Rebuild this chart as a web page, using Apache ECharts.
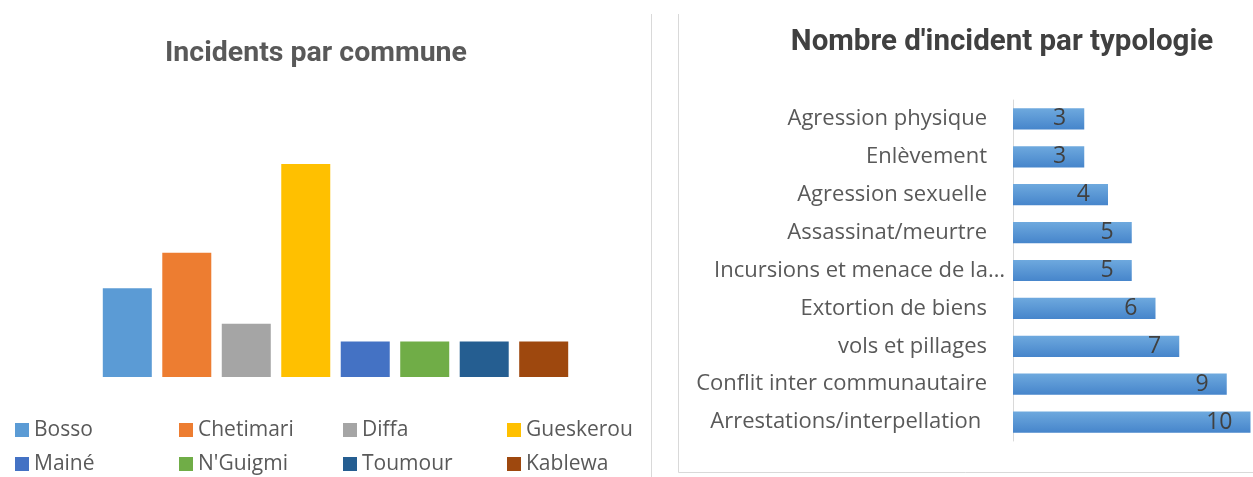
<!DOCTYPE html>
<html>
<head>
<meta charset="utf-8">
<script src="https://cdn.jsdelivr.net/npm/echarts@6/dist/echarts.min.js"></script>
<style>
  html, body { margin: 0; padding: 0; background: #fff; }
  #chart { width: 1253px; height: 477px; }
</style>
</head>
<body>
<div id="chart"></div>
<script>
const communes = ['Bosso', 'Chetimari', 'Diffa', 'Gueskerou', 'Mainé', "N'Guigmi", 'Toumour', 'Kablewa']
const communeValues = [5, 7, 3, 12, 2, 2, 2, 2]
const communeColors = ['#5b9bd5', '#ed7d31', '#a5a5a5', '#ffc000', '#4472c4', '#70ad47', '#255e91', '#9e480e']
// legend columns, two rows each
const legendColumns = [[0, 4], [1, 5], [2, 6], [3, 7]]

const typologies = [
  'Agression physique',
  'Enlèvement',
  'Agression sexuelle',
  'Assassinat/meurtre',
  'Incursions et menace de la…',
  'Extortion de biens',
  'vols et pillages',
  'Conflit inter communautaire',
  'Arrestations/interpellation ',
]
const typologyValues = [3, 3, 4, 5, 5, 6, 7, 9, 10]

const labelFont = 'Open Sans'
const titleFont = 'Roboto'
const border = '#d9d9d9'

const chart = echarts.init(document.getElementById('chart'))

const communeSeries = communes.map((name, i) => ({
  name,
  type: 'bar',
  xAxisIndex: 0,
  yAxisIndex: 0,
  data: [communeValues[i]],
  barWidth: 49,
  barGap: '21.4%',
  itemStyle: { color: communeColors[i] },
  silent: true,
}))

chart.setOption({
  animation: false,
  title: [
    {
      text: 'Incidents par commune',
      left: 316,
      top: 39,
      textAlign: 'center',
      padding: 0,
      textStyle: { fontFamily: titleFont, fontWeight: 'bold', fontSize: 28.5, color: '#595959' },
    },
    {
      text: "Nombre d'incident par typologie",
      left: 1002,
      top: 28,
      textAlign: 'center',
      padding: 0,
      textStyle: { fontFamily: titleFont, fontWeight: 'bold', fontSize: 29.5, color: '#404040' },
    },
  ],
  legend: legendColumns.map((col, k) => ({
    left: 15 + 164 * k,
    top: 418,
    orient: 'vertical',
    padding: 0,
    itemWidth: 14,
    itemHeight: 14,
    itemGap: 10,
    icon: 'rect',
    selectedMode: false,
    data: col.map((i) => communes[i]),
    textStyle: { fontFamily: labelFont, fontSize: 21, color: '#595959', lineHeight: 24 },
  })),
  grid: [
    { left: 40, width: 591, top: 128.5, height: 248.5 },
    { left: 1013, width: 237.5, top: 100, height: 341 },
  ],
  xAxis: [
    { gridIndex: 0, type: 'category', data: ['Incidents par commune'], show: false },
    { gridIndex: 1, type: 'value', min: 0, max: 10, show: false },
  ],
  yAxis: [
    { gridIndex: 0, type: 'value', min: 0, max: 14, show: false },
    {
      gridIndex: 1,
      type: 'category',
      inverse: true,
      data: typologies.map((t, i) =>
        i === 4 ? { value: t, textStyle: { padding: [0, -18, 0, 0] } } : t
      ),
      axisLine: { lineStyle: { color: border, width: 1 } },
      axisTick: { show: false },
      axisLabel: { margin: 26, fontFamily: labelFont, fontSize: 22, color: '#595959' },
    },
  ],
  series: [
    ...communeSeries,
    {
      name: 'Typologie',
      type: 'bar',
      xAxisIndex: 1,
      yAxisIndex: 1,
      data: typologyValues,
      barCategoryGap: '44%',
      silent: true,
      itemStyle: {
        color: new echarts.graphic.LinearGradient(0, 0, 0, 1, [
          { offset: 0, color: '#6ea9de' },
          { offset: 1, color: '#4685cb' },
        ]),
      },
      label: {
        show: true,
        position: 'insideRight',
        distance: 18,
        fontFamily: labelFont,
        fontSize: 23,
        color: '#404040',
      },
    },
  ],
  graphic: [
    { type: 'line', shape: { x1: 651.5, y1: 14, x2: 651.5, y2: 477 }, style: { stroke: border, lineWidth: 1 } },
    { type: 'line', shape: { x1: 678.5, y1: 14, x2: 678.5, y2: 472.5 }, style: { stroke: border, lineWidth: 1 } },
    { type: 'line', shape: { x1: 678.5, y1: 472.5, x2: 1253, y2: 472.5 }, style: { stroke: border, lineWidth: 1 } },
  ],
})
</script>
</body>
</html>
